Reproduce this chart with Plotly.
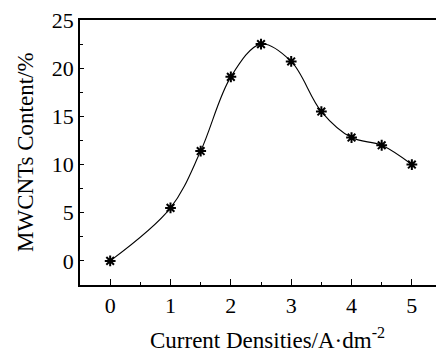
import plotly.graph_objects as go

current_density = [0, 1, 1.5, 2, 2.5, 3, 3.5, 4, 4.5, 5]
mwcnt_content = [0.0, 5.5, 11.4, 19.1, 22.5, 20.7, 15.5, 12.8, 12.0, 10.0]
x_ticks = [0, 1, 2, 3, 4, 5]
y_ticks = [0, 5, 10, 15, 20, 25]

FONT = "Liberation Serif"
TICK_SIZE = 22
TITLE_SIZE = 23

fig = go.Figure()
fig.add_trace(go.Scatter(
    x=current_density, y=mwcnt_content, mode="lines+markers",
    line=dict(shape="spline", smoothing=1.0, color="black", width=1.1),
    marker=dict(symbol="asterisk-open", size=9, color="black",
                line=dict(color="black", width=2)),
    showlegend=False,
))

fig.update_layout(
    width=436, height=353,
    margin=dict(l=80, r=0, t=20, b=68),
    paper_bgcolor="white", plot_bgcolor="white",
    font=dict(family=FONT, size=TICK_SIZE, color="black"),
    xaxis=dict(
        automargin=False,
        range=[-0.5, 5.4], tickvals=x_ticks, ticktext=[str(v) for v in x_ticks],
        showgrid=False, zeroline=False, showline=True, linecolor="black", linewidth=1.5,
        mirror=True, ticks="inside", ticklen=6, tickwidth=1.2, tickcolor="black",
        minor=dict(tickvals=[0.5, 1.5, 2.5, 3.5, 4.5], ticks="inside", ticklen=3,
                   tickwidth=1.2, tickcolor="black", showgrid=False),
        tickfont=dict(family=FONT, size=TICK_SIZE),
    ),
    yaxis=dict(
        automargin=False,
        range=[-2.5, 25], tickvals=y_ticks, ticktext=[str(v) for v in y_ticks],
        showgrid=False, zeroline=False, showline=True, linecolor="black", linewidth=1.5,
        ticks="inside", ticklen=4, tickwidth=1.2, tickcolor="black",
        minor=dict(tickvals=[2.5, 7.5, 12.5, 17.5, 22.5], ticks="inside", ticklen=3,
                   tickwidth=1.2, tickcolor="black", showgrid=False),
        tickfont=dict(family=FONT, size=TICK_SIZE),
    ),
    annotations=[
        dict(text="Current Densities/A·dm<sup>-2</sup>", xref="paper", yref="paper",
             x=(267 - 80) / 356, y=-(338 - 285) / 265, showarrow=False,
             xanchor="center", yanchor="middle", font=dict(family=FONT, size=TITLE_SIZE)),
        dict(text="MWCNTs Content/%", xref="paper", yref="paper",
             x=-(80 - 25) / 356, y=(285 - 152) / 265, showarrow=False, textangle=-90,
             xanchor="center", yanchor="middle", font=dict(family=FONT, size=TITLE_SIZE)),
    ],
)

fig.write_html("out.html", config={"displayModeBar": False},
               post_script="document.body.style.margin='0';document.body.style.overflow='hidden';")
